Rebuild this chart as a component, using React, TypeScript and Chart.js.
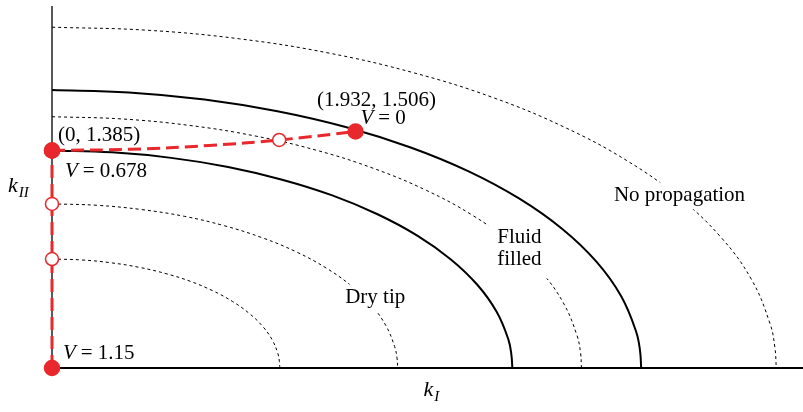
import React, { useEffect, useRef } from "react";
import { Chart, registerables } from "chart.js";

Chart.register(...registerables);

// ---- Data (units of k) ----
const outerSolidX = [0, 0.489, 0.971, 1.435, 1.875, 2.283, 2.652, 2.975, 3.248, 3.465, 3.622, 3.718, 3.743, 3.75];
const outerSolidY = [1.77, 1.755, 1.71, 1.635, 1.533, 1.404, 1.252, 1.078, 0.885, 0.677, 0.458, 0.231, 0.108, 0];

const innerSolidX = [0, 0.382, 0.758, 1.121, 1.465, 1.784, 2.072, 2.325, 2.537, 2.707, 2.83, 2.905, 2.924, 2.93];
const innerSolidY = [1.385, 1.373, 1.338, 1.28, 1.199, 1.099, 0.979, 0.843, 0.693, 0.53, 0.358, 0.181, 0.084, 0];

const dottedTopX = [0, 0.602, 1.193, 1.764, 2.305, 2.807, 3.26, 3.658, 3.992, 4.259, 4.453, 4.57, 4.601, 4.61];
const dottedTopY = [2.17, 2.151, 2.096, 2.005, 1.879, 1.722, 1.534, 1.321, 1.085, 0.831, 0.562, 0.283, 0.132, 0];

const dotted2X = [0, 0.44, 0.872, 1.29, 1.685, 2.052, 2.383, 2.674, 2.918, 3.114, 3.255, 3.341, 3.364, 3.37];
const dotted2Y = [1.6, 1.586, 1.545, 1.478, 1.386, 1.269, 1.131, 0.974, 0.8, 0.612, 0.414, 0.209, 0.098, 0];

const dotted3X = [0, 0.287, 0.569, 0.842, 1.1, 1.339, 1.556, 1.746, 1.905, 2.033, 2.125, 2.181, 2.196, 2.2];
const dotted3Y = [1.045, 1.036, 1.009, 0.966, 0.905, 0.829, 0.739, 0.636, 0.523, 0.4, 0.27, 0.136, 0.064, 0];

const dotted4X = [0, 0.189, 0.375, 0.555, 0.725, 0.883, 1.025, 1.15, 1.256, 1.34, 1.401, 1.438, 1.447, 1.45];
const dotted4Y = [0.694, 0.688, 0.67, 0.641, 0.601, 0.551, 0.491, 0.423, 0.347, 0.266, 0.18, 0.091, 0.042, 0];

// red path: vertical part then the curve
const redVertX = [0, 0, 0, 0];
const redVertY = [0, 0.694, 1.045, 1.385];
const redVertFilled = [true, false, false, true];
const redCurveX = [0, 0.5, 1.0, 1.446, 1.932];
const redCurveY = [1.385, 1.393, 1.417, 1.452, 1.506];
const redCurveMarker = ["filled", "none", "none", "open", "filled"];

const xMax = 4.78;
const yMax = 2.305;

const pointLabels = ["(0, 1.385)", "(1.932, 1.506)"];
const vLabels = ["0.678", "0", "1.15"];
const regionLabels = ["Dry tip", "Fluid", "filled", "No propagation"];

// ---- styling/positions ----
const RED = "#e8282c";
const FONT = "'Liberation Serif', 'Times New Roman', serif";
const FS = 21;
// region label anchors (data units), alignment and white-out padding
const regionPos = [
  { x: 1.866, y: 0.446, align: "left", pad: 4 },
  { x: 2.975, y: 0.834, align: "center", pad: 9 },
  { x: 2.975, y: 0.688, align: "center", pad: 9 },
  { x: 3.994, y: 1.096, align: "center", pad: 4 },
];

const toPts = (xs: number[], ys: number[]) => xs.map((x, i) => ({ x, y: ys[i] }));

function drawV(ctx: CanvasRenderingContext2D, x: number, y: number, value: string) {
  ctx.textBaseline = "middle";
  ctx.textAlign = "left";
  ctx.font = `italic ${FS}px ${FONT}`;
  ctx.fillText("V", x, y);
  let cx = x + ctx.measureText("V").width + 5;
  ctx.font = `${FS}px ${FONT}`;
  ctx.fillText("=", cx, y);
  cx += ctx.measureText("=").width + 5;
  ctx.fillText(value, cx, y);
}

function drawSub(ctx: CanvasRenderingContext2D, x: number, y: number, main: string, sub: string) {
  ctx.textBaseline = "alphabetic";
  ctx.textAlign = "left";
  ctx.font = `italic 22px ${FONT}`;
  ctx.fillText(main, x, y);
  const w = ctx.measureText(main).width;
  ctx.font = `italic 15px ${FONT}`;
  ctx.fillText(sub, x + w + 1, y + 5);
}

const annotPlugin = {
  id: "annot",
  beforeDatasetsDraw(chart: any) {
    const { ctx, scales } = chart;
    const xs = scales.x, ys = scales.y;
    const x0 = xs.getPixelForValue(0), y0 = ys.getPixelForValue(0);
    ctx.save();
    ctx.strokeStyle = "#000";
    ctx.lineWidth = 2;
    ctx.beginPath();
    ctx.moveTo(x0, y0);
    ctx.lineTo(xs.getPixelForValue(xMax), y0);
    ctx.stroke();
    ctx.lineWidth = 1.3;
    ctx.beginPath();
    ctx.moveTo(x0, y0);
    ctx.lineTo(x0, ys.getPixelForValue(yMax));
    ctx.stroke();
    ctx.restore();
  },
  beforeDatasetDraw(chart: any, args: any) {
    // after all dotted curves, before solid ones: white-out behind region labels
    if (args.index !== 3) return;
    const { ctx, scales } = chart;
    ctx.save();
    ctx.font = `${FS}px ${FONT}`;
    ctx.fillStyle = "#fff";
    regionLabels.forEach((t, i) => {
      const p = regionPos[i];
      const x = scales.x.getPixelForValue(p.x);
      const y = scales.y.getPixelForValue(p.y);
      const w = ctx.measureText(t).width;
      const left = p.align === "center" ? x - w / 2 : x;
      ctx.fillRect(left - p.pad, y - FS / 2 - p.pad + 1, w + 2 * p.pad, FS + 2 * p.pad - 2);
    });
    ctx.restore();
  },
  afterDatasetsDraw(chart: any) {
    const { ctx, scales } = chart;
    const xs = scales.x, ys = scales.y;
    const px = (v: number) => xs.getPixelForValue(v);
    const py = (v: number) => ys.getPixelForValue(v);
    ctx.save();
    ctx.fillStyle = "#000";
    ctx.font = `${FS}px ${FONT}`;
    ctx.textBaseline = "middle";
    regionLabels.forEach((t, i) => {
      const p = regionPos[i];
      ctx.textAlign = p.align as CanvasTextAlign;
      ctx.fillText(t, px(p.x), py(p.y));
    });

    // point labels
    ctx.textAlign = "left";
    const pA = { x: px(redVertX[3]), y: py(redVertY[3]) };
    ctx.fillText(pointLabels[0], pA.x + 6, pA.y - 15);
    drawV(ctx, pA.x + 13, pA.y + 21, vLabels[0]);

    const pB = { x: px(redCurveX[4]), y: py(redCurveY[4]) };
    ctx.font = `${FS}px ${FONT}`;
    ctx.textAlign = "center";
    ctx.fillText(pointLabels[1], pB.x + 21, pB.y - 31);
    drawV(ctx, pB.x + 5, pB.y - 13, vLabels[1]);

    const pC = { x: px(redVertX[0]), y: py(redVertY[0]) };
    drawV(ctx, pC.x + 11, pC.y - 15, vLabels[2]);

    // axis titles
    drawSub(ctx, px(xMax / 2) - 4, chart.chartArea.bottom + 28, "k", "I");
    drawSub(ctx, 8, py(1.12), "k", "II");
    ctx.restore();
  },
};

export default function App() {
  const ref = useRef<HTMLCanvasElement | null>(null);
  useEffect(() => {
    document.body.style.margin = "0";
    const canvas = ref.current!;
    const dotted = (xs: number[], ys: number[]) => ({
      data: toPts(xs, ys),
      borderColor: "#000",
      borderWidth: 1,
      borderDash: [3, 3],
      pointRadius: 0,
      tension: 0.4,
      fill: false,
      order: 5,
    });
    const solid = (xs: number[], ys: number[]) => ({
      data: toPts(xs, ys),
      borderColor: "#000",
      borderWidth: 2,
      pointRadius: 0,
      tension: 0.4,
      fill: false,
      order: 4,
    });
    const chart = new Chart(canvas, {
      type: "line",
      data: {
        datasets: [
          {
            data: toPts(redVertX, redVertY),
            borderColor: RED,
            borderWidth: 3,
            borderDash: [13, 6],
            tension: 0,
            pointRadius: redVertFilled.map((f) => (f ? 7.5 : 6.5)),
            pointBackgroundColor: redVertFilled.map((f) => (f ? RED : "#fff")),
            pointBorderColor: RED,
            pointBorderWidth: 1.5,
            clip: false,
            order: 1,
          } as any,
          {
            data: toPts(redCurveX, redCurveY),
            borderColor: RED,
            borderWidth: 3,
            borderDash: [13, 6],
            tension: 0.4,
            pointRadius: redCurveMarker.map((m) => (m === "filled" ? 7.5 : m === "open" ? 6.5 : 0)),
            pointBackgroundColor: redCurveMarker.map((m) => (m === "filled" ? RED : "#fff")),
            pointBorderColor: RED,
            pointBorderWidth: 1.5,
            clip: false,
            order: 2,
          } as any,
          solid(outerSolidX, outerSolidY),
          solid(innerSolidX, innerSolidY),
          dotted(dottedTopX, dottedTopY),
          dotted(dotted2X, dotted2Y),
          dotted(dotted3X, dotted3Y),
          dotted(dotted4X, dotted4Y),
        ],
      },
      options: {
        animation: false,
        responsive: false,
        devicePixelRatio: 1,
        layout: { autoPadding: false, padding: { left: 52, right: 0, top: 6, bottom: 44 } },
        plugins: { legend: { display: false }, tooltip: { enabled: false } },
        events: [],
        scales: {
          x: { type: "linear", min: 0, max: xMax, display: false },
          y: { type: "linear", min: 0, max: yMax, display: false },
        },
      },
      plugins: [annotPlugin],
    });
    return () => chart.destroy();
  }, []);
  return (
    <div style={{ position: "absolute", left: 0, top: 0, width: 803, height: 412, background: "#fff" }}>
      <canvas ref={ref} width={803} height={412} style={{ width: 803, height: 412, display: "block" }} />
    </div>
  );
}
